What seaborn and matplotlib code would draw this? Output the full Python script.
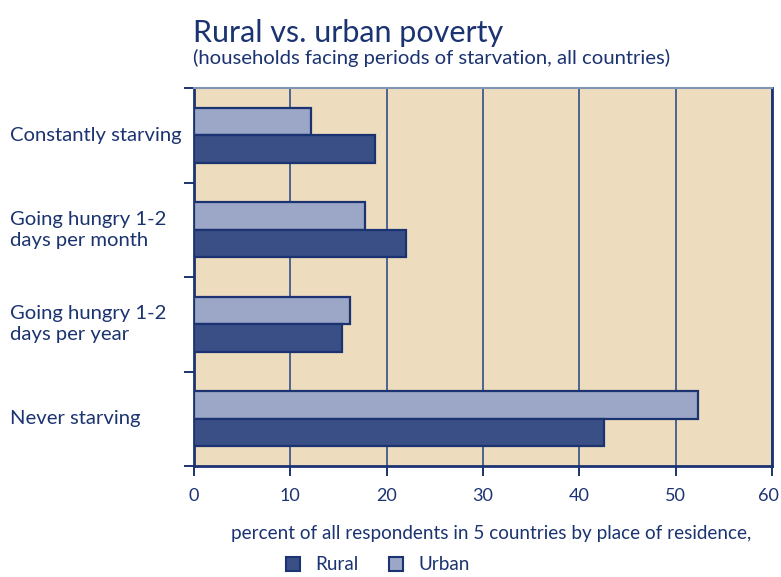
import pandas as pd
import matplotlib
matplotlib.use('Agg')
import matplotlib.pyplot as plt
import matplotlib.transforms as mtransforms
from matplotlib.patches import Patch
import seaborn as sns

# Datos
categorias = ['Constantly starving', 'Going hungry 1-2\ndays per month',
              'Going hungry 1-2\ndays per year', 'Never starving']
urbano = [12.1, 17.7, 16.2, 52.3]
rural = [18.8, 22.0, 15.4, 42.6]
xticks = [0, 10, 20, 30, 40, 50, 60]

titulo = 'Rural vs. urban poverty'
subtitulo = '(households facing periods of starvation, all countries)'
etiqueta_x = 'percent of all respondents in 5 countries by place of residence,'

df = pd.DataFrame({
    'cat': categorias * 2,
    'valor': urbano + rural,
    'grupo': ['Urban'] * 4 + ['Rural'] * 4,
})

navy = '#1b3370'
c_rural = '#3a4f86'
c_urbano = '#9ca6c6'
fondo = '#eddcbe'

sns.set_style('white')
plt.rcParams['font.family'] = ['Lato', 'DejaVu Sans']

fig = plt.figure(figsize=(7.81, 5.77), dpi=100)
ax = fig.add_axes([194 / 781, 1 - 466 / 577, 578 / 781, 378 / 577])
ax.set_facecolor(fondo)

sns.barplot(data=df, x='valor', y='cat', hue='grupo', hue_order=['Urban', 'Rural'],
            palette={'Urban': c_urbano, 'Rural': c_rural}, orient='h', saturation=1,
            width=0.58, edgecolor=navy, linewidth=1.6, ax=ax, legend=False, zorder=3)

ax.set_xlim(0, 60)
ax.set_ylim(3.5, -0.5)
ax.set_xticks(xticks)
ax.set_xticklabels([str(t) for t in xticks], fontsize=13, color=navy)
ax.set_yticks([-0.5, 0.5, 1.5, 2.5, 3.5])
ax.set_yticklabels([])
ax.tick_params(axis='both', direction='out', length=7, width=1.4, color=navy,
               bottom=True, left=True)
ax.tick_params(axis='x', pad=9)
# la última etiqueta (60) un poco a la izquierda para que no se corte
ultima = ax.get_xticklabels()[-1]
ultima.set_transform(ultima.get_transform() +
                     mtransforms.ScaledTranslation(-4 / 100, 0, fig.dpi_scale_trans))
ax.set_xlabel(etiqueta_x, fontsize=13.6, color=navy, labelpad=14)
ax.xaxis.set_label_coords((491 - 194) / 578, -0.155)
ax.set_ylabel('')

ax.grid(axis='x', color='#4a6591', linewidth=1.4, zorder=1)
ax.set_axisbelow(True)

for lado in ['left', 'bottom', 'right']:
    ax.spines[lado].set_color(navy)
    ax.spines[lado].set_linewidth(2)
ax.spines['top'].set_color('#7f93b5')
ax.spines['top'].set_linewidth(1.5)

# etiquetas de categorías alineadas a la izquierda
trans = mtransforms.blended_transform_factory(fig.transFigure, ax.transData)
for i, c in enumerate(categorias):
    ax.text(10 / 781, i, c, transform=trans, ha='left', va='center',
            fontsize=14.6, color=navy, linespacing=1.3)

fig.text(193 / 781, 1 - 33 / 577, titulo, fontsize=22, color=navy, ha='left', va='center')
fig.text(193 / 781, 1 - 58 / 577, subtitulo, fontsize=14.6, color=navy, ha='left', va='center')

handles = [Patch(facecolor=c_rural, edgecolor=navy, linewidth=1.5, label='Rural'),
           Patch(facecolor=c_urbano, edgecolor=navy, linewidth=1.5, label='Urban')]
leg = fig.legend(handles=handles, loc='center', bbox_to_anchor=(378 / 781, 1 - 565 / 577),
                 ncol=2, frameon=False, fontsize=13.6, handlelength=0.75, handleheight=0.75,
                 columnspacing=1.6, handletextpad=0.8)
for t in leg.get_texts():
    t.set_color(navy)

fig.savefig('out.png', dpi=100, facecolor='white')
